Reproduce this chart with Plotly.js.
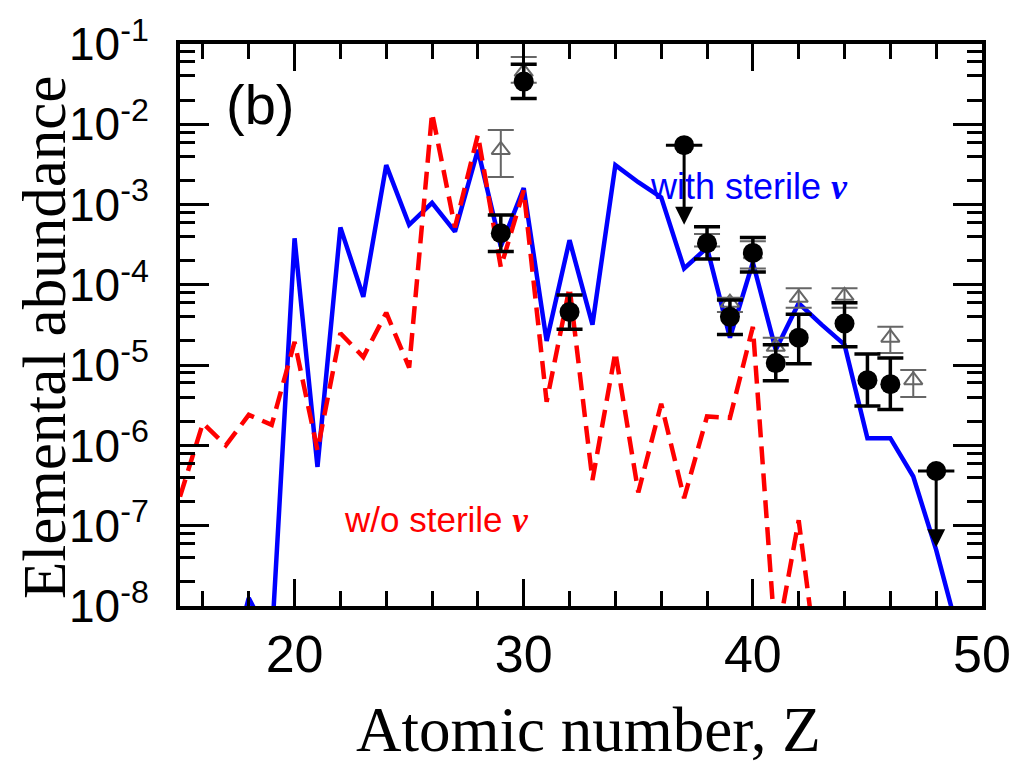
<!DOCTYPE html>
<html>
<head>
<meta charset="utf-8">
<script src="https://cdn.plot.ly/plotly-3.0.1.min.js"></script>
<style>html,body{margin:0;padding:0;background:#fff;}#chart{width:1018px;height:767px;}</style>
</head>
<body>
<div id="chart"></div>
<script>
// Model curve: with sterile neutrino (blue solid)
const blueZ = [17,18,19,20,21,22,23,24,25,26,27,28,29,30,31,32,33,34,35,36,37,38,39,40,41,42,43,44,45,46,47,48,49];
const blueVals = [1.0e-9,1.26e-8,3.5e-9,3.8e-4,5.4e-7,5.2e-4,7.1e-5,3.1e-3,5.6e-4,1.05e-3,4.6e-4,4.8e-3,3.0e-4,1.6e-3,2.0e-5,3.6e-4,3.2e-5,3.1e-3,1.9e-3,1.23e-3,1.6e-4,2.9e-4,2.2e-5,1.9e-4,1.55e-5,5.9e-5,3.2e-5,1.8e-5,1.23e-6,1.23e-6,4.1e-7,5.0e-8,4.2e-9];

// Model curve: without sterile neutrino (red dashed)
const redZ = [15,16,17,18,19,20,21,22,23,24,25,26,27,28,29,30,31,32,33,34,35,36,37,38,39,40,41,42,43];
const redVals = [2.3e-7,1.9e-6,1.0e-6,2.4e-6,1.8e-6,1.95e-5,8.7e-7,2.5e-5,1.26e-5,4.5e-5,9.3e-6,1.38e-2,5.2e-4,7.4e-3,1.66e-4,1.5e-3,3.5e-6,9.3e-5,3.7e-7,1.45e-5,2.6e-7,3.3e-6,2.2e-7,2.3e-6,2.2e-6,3.0e-5,3.2e-9,1.17e-7,7e-10];

// Observations (black filled circles)
const obsZ = [29,30,32,38,39,40,41,42,44,45,46];
const obsVals = [4.4e-4,3.4e-2,4.6e-5,3.3e-4,4.0e-5,2.5e-4,1.06e-5,2.2e-5,3.3e-5,6.5e-6,5.8e-6];
const obsHi = [7.4e-4,5.6e-2,7.5e-5,5.3e-4,6.5e-5,3.9e-4,1.79e-5,4.3e-5,6.0e-5,1.38e-5,1.23e-5];
const obsLo = [2.6e-4,2.1e-2,2.8e-5,2.1e-4,2.4e-5,1.45e-4,6.4e-6,1.04e-5,1.69e-5,3.1e-6,2.8e-6];

// Upper limits (black circles with downward arrows)
const ulZ = [37,48];
const ulVals = [5.5e-3,4.8e-7];
const ulArrowEnd = [5.6e-4,5.4e-8];

// Second data set (gray open triangles)
const grayZ = [29,30,38,39,40,41,42,44,46,47];
const grayVals = [4.8e-3,4.5e-2,3.5e-4,6.0e-5,2.4e-4,1.69e-5,6.9e-5,7.3e-5,2.2e-5,6.5e-6];
const grayHi = [8.5e-3,6.9e-2,4.3e-4,6.9e-5,3.5e-4,2.2e-5,9.1e-5,9.1e-5,3.0e-5,8.7e-6];
const grayLo = [2.2e-3,3.3e-2,3.0e-4,4.6e-5,1.6e-4,1.26e-5,5.2e-5,5.2e-5,1.42e-5,4.0e-6];

// Axis ticks
const xTicks = [20,30,40,50];
const xMinor = [16,18,22,24,26,28,32,34,36,38,42,44,46,48];
const yExps = [-8,-7,-6,-5,-4,-3,-2,-1];
const yTickVals = yExps.map(e => Math.pow(10, e));
const yTickText = yExps.map(e => '10<sup>' + String(e) + '</sup>');
const yMinor = [];
yExps.slice(0, -1).forEach(e => [2,4,6,8].forEach(m => yMinor.push(m * Math.pow(10, e))));

const traces = [
  {x: blueZ, y: blueVals, type: 'scatter', mode: 'lines',
   line: {color: '#0000ff', width: 4.5}, hoverinfo: 'skip'},
  {x: redZ, y: redVals, type: 'scatter', mode: 'lines',
   line: {color: '#ff0000', width: 4.5, dash: '18px,9px'}, hoverinfo: 'skip'},
  {x: grayZ, y: grayVals, type: 'scatter', mode: 'markers',
   marker: {symbol: 'triangle-up-open', size: 16, color: '#666666', line: {color: '#666666', width: 2}},
   error_y: {type: 'data', symmetric: false,
     array: grayHi.map((h, i) => h - grayVals[i]),
     arrayminus: grayLo.map((l, i) => grayVals[i] - l),
     color: '#666666', thickness: 2, width: 13}},
  {x: obsZ, y: obsVals, type: 'scatter', mode: 'markers',
   marker: {symbol: 'circle', size: 20, color: '#000000'},
   error_y: {type: 'data', symmetric: false,
     array: obsHi.map((h, i) => h - obsVals[i]),
     arrayminus: obsLo.map((l, i) => obsVals[i] - l),
     color: '#000000', thickness: 3.5, width: 13}},
  {x: ulZ, y: ulVals, type: 'scatter', mode: 'markers',
   marker: {symbol: 'line-ew-open', size: 26, color: '#000000', line: {color: '#000000', width: 3}}},
  {x: ulZ, y: ulVals, type: 'scatter', mode: 'markers',
   marker: {symbol: 'circle', size: 20, color: '#000000'}}
];

const annotations = [];
ulZ.forEach((z, i) => {
  annotations.push({x: z, y: Math.log10(ulArrowEnd[i]), ax: z, ay: Math.log10(ulVals[i]),
    xref: 'x', yref: 'y', axref: 'x', ayref: 'y', text: '', showarrow: true,
    arrowhead: 2, arrowsize: 1.2, arrowwidth: 3, arrowcolor: '#000000', standoff: 0, startstandoff: 0});
});
const nu = '<span style="font-family:\'Liberation Serif\'"><b><i>\u03bd</i></b></span>';
annotations.push(
  {xref: 'paper', yref: 'paper', x: 0.0998, y: 0.892, text: '(b)', showarrow: false,
   xanchor: 'center', yanchor: 'middle', font: {family: 'Liberation Sans, Arial', size: 56, color: '#000'}},
  {xref: 'paper', yref: 'paper', x: 0.709, y: 0.7456, text: 'with sterile ' + nu, showarrow: false,
   xanchor: 'center', yanchor: 'middle', font: {family: 'Liberation Sans, Arial', size: 36, color: '#0000ff'}},
  {xref: 'paper', yref: 'paper', x: 0.3186, y: 0.153, text: 'w/o sterile ' + nu, showarrow: false,
   xanchor: 'center', yanchor: 'middle', font: {family: 'Liberation Sans, Arial', size: 35, color: '#ff0000'}},
  {xref: 'paper', yref: 'paper', x: -0.1683, y: 0.477, text: 'Elemental abundance', showarrow: false,
   textangle: -90, xanchor: 'center', yanchor: 'middle', font: {family: 'Liberation Serif, Times New Roman', size: 61, color: '#000'}},
  {xref: 'paper', yref: 'paper', x: 0.509, y: -0.2206, text: 'Atomic number, Z', showarrow: false,
   xanchor: 'center', yanchor: 'middle', font: {family: 'Liberation Serif, Times New Roman', size: 63, color: '#000'}}
);

const layout = {
  width: 1018, height: 767,
  margin: {l: 180, r: 36, t: 44, b: 161},
  paper_bgcolor: '#ffffff', plot_bgcolor: '#ffffff',
  showlegend: false,
  xaxis: {
    range: [15, 50], tickmode: 'array', tickvals: xTicks, ticktext: xTicks.map(String),
    ticks: 'inside', ticklen: 27, tickwidth: 3, tickcolor: '#000',
    showline: true, linewidth: 4, linecolor: '#000', mirror: 'ticks',
    showgrid: false, zeroline: false,
    tickfont: {family: 'Liberation Sans, Arial', size: 52, color: '#000'},
    ticklabelstandoff: 0,
    minor: {tickmode: 'array', tickvals: xMinor, ticks: 'inside', ticklen: 15, tickwidth: 3, tickcolor: '#000', showgrid: false}
  },
  yaxis: {
    type: 'log', range: [-8, -1], tickmode: 'array', tickvals: yTickVals, ticktext: yTickText,
    ticks: 'inside', ticklen: 29, tickwidth: 3, tickcolor: '#000',
    showline: true, linewidth: 4, linecolor: '#000', mirror: 'ticks',
    showgrid: false, zeroline: false,
    tickfont: {family: 'Liberation Sans, Arial', size: 46, color: '#000'},
    ticklabelstandoff: 18,
    minor: {tickmode: 'array', tickvals: yMinor, ticks: 'inside', ticklen: 15, tickwidth: 3, tickcolor: '#000', showgrid: false}
  },
  annotations: annotations
};

Plotly.newPlot('chart', traces, layout, {displayModeBar: false, staticPlot: true});
</script>
</body>
</html>
